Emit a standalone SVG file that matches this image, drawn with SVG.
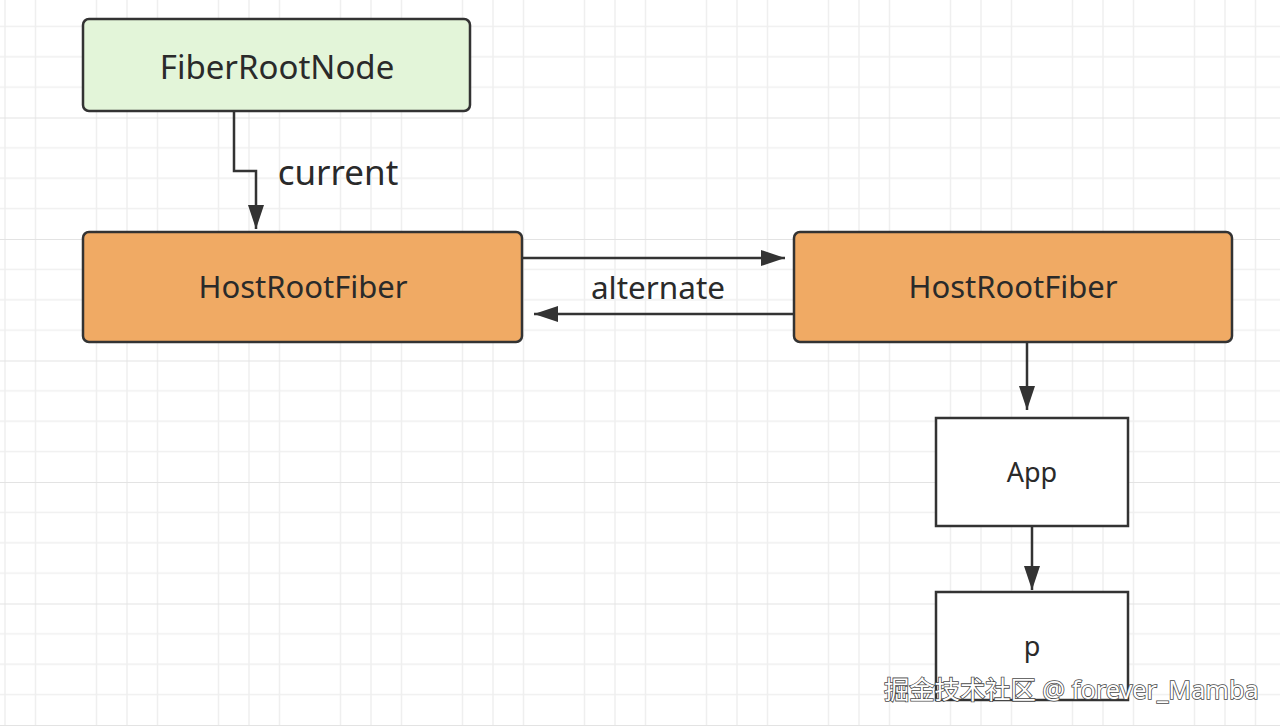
<svg xmlns="http://www.w3.org/2000/svg" width="1280" height="726" viewBox="0 0 1280 726">
  <defs>
    <pattern id="grid" x="-56" y="-4" width="122" height="121.5" patternUnits="userSpaceOnUse">
      <path d="M30.5 0V121.5M61 0V121.5M91.5 0V121.5M0 30.4H122M0 60.8H122M0 91.1H122" stroke="#efefef" stroke-width="1.5" fill="none"/>
      <path d="M0 0V121.5M0 0H122" stroke="#e3e3e3" stroke-width="2" fill="none"/>
    </pattern>
    <marker id="arrow" viewBox="0 0 24 16" refX="24" refY="8" markerWidth="24" markerHeight="16" markerUnits="userSpaceOnUse" orient="auto">
      <path d="M0 0L24 8L0 16Z" fill="#333"/>
    </marker>
    <style>
      .box { stroke: #333; stroke-width: 2.5; }
      .green { fill: #e3f5d9; }
      .orange { fill: #f0aa64; }
      .white { fill: #ffffff; }
      .lbl { font-family: "Noto Sans", "Open Sans", sans-serif; fill: #2a2a2a; text-anchor: middle; }
      .edge { stroke: #333; stroke-width: 2.5; fill: none; marker-end: url(#arrow); }
      .wm { font-family: "Noto Sans", "Noto Sans CJK SC", sans-serif; font-size: 25.3px; fill: #ffffff; stroke: #4a4a4a; stroke-width: 1.6; paint-order: stroke; }
    </style>
  </defs>
  <rect width="1280" height="726" fill="#ffffff"/>
  <rect width="1280" height="726" fill="url(#grid)"/>

  <g id="connectors">
    <path class="edge" d="M234 112V171H256V229"/>
    <path class="edge" d="M523 258H785"/>
    <path class="edge" d="M794 314H534"/>
    <path class="edge" d="M1027 343V410"/>
    <path class="edge" d="M1032 526V590"/>
    <text class="lbl" x="338" y="185" font-size="35">current</text>
    <text class="lbl" x="658" y="299" font-size="31.5">alternate</text>
  </g>

  <g id="fiberRootNode">
    <rect class="box green" x="83" y="19" width="387" height="92" rx="6"/>
    <text class="lbl" x="277" y="79" font-size="33">FiberRootNode</text>
  </g>
  <g id="hostRootFiberCurrent">
    <rect class="box orange" x="83" y="232" width="439" height="110" rx="6"/>
    <text class="lbl" x="303" y="298" font-size="31">HostRootFiber</text>
  </g>
  <g id="hostRootFiberAlternate">
    <rect class="box orange" x="794" y="232" width="438" height="110" rx="6"/>
    <text class="lbl" x="1013" y="298" font-size="31">HostRootFiber</text>
  </g>
  <g id="app">
    <rect class="box white" x="936" y="418" width="192" height="108"/>
    <text class="lbl" x="1032" y="482" font-size="27">App</text>
  </g>
  <g id="p">
    <rect class="box white" x="936" y="592" width="192" height="108"/>
    <text class="lbl" x="1032" y="656" font-size="27">p</text>
  </g>

  <text class="wm" x="884" y="699">掘金技术社区 @ forever_Mamba</text>
</svg>
